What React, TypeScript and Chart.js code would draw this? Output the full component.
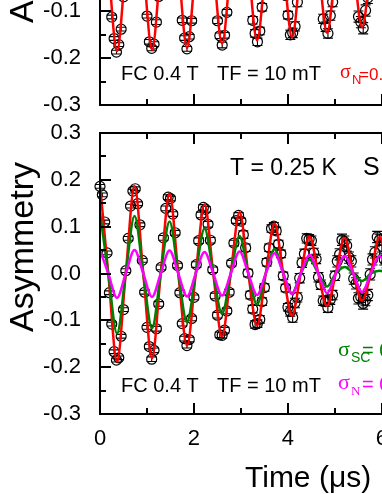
import React, { useEffect, useRef } from "react";
import { Chart, registerables } from "chart.js";
Chart.register(...registerables);

// ---------- data ----------
const TIME_US = [0.00,0.05,0.10,0.15,0.20,0.25,0.30,0.35,0.40,0.45,0.50,0.55,0.60,0.65,0.70,0.75,0.80,0.85,0.90,0.95,1.00,1.05,1.10,1.15,1.20,1.25,1.30,1.35,1.40,1.45,1.50,1.55,1.60,1.65,1.70,1.75,1.80,1.85,1.90,1.95,2.00,2.05,2.10,2.15,2.20,2.25,2.30,2.35,2.40,2.45,2.50,2.55,2.60,2.65,2.70,2.75,2.80,2.85,2.90,2.95,3.00,3.05,3.10,3.15,3.20,3.25,3.30,3.35,3.40,3.45,3.50,3.55,3.60,3.65,3.70,3.75,3.80,3.85,3.90,3.95,4.00,4.05,4.10,4.15,4.20,4.25,4.30,4.35,4.40,4.45,4.50,4.55,4.60,4.65,4.70,4.75,4.80,4.85,4.90,4.95,5.00,5.05,5.10,5.15,5.20,5.25,5.30,5.35,5.40,5.45,5.50,5.55,5.60,5.65,5.70,5.75,5.80,5.85,5.90,5.95,6.00,6.05,6.10,6.15,6.20,6.25,6.30,6.35,6.40];

// lower panel: T = 0.25 K
const ASYM_025K = [
  0.186,0.168,0.110,0.044,-0.041,-0.108,-0.167,-0.185,-0.180,-0.134,
  -0.077,0.006,0.075,0.144,0.176,0.181,0.149,0.104,0.028,-0.040,
  -0.115,-0.156,-0.183,-0.164,-0.118,-0.065,0.013,0.076,0.139,0.163,
  0.160,0.127,0.087,0.017,-0.041,-0.107,-0.139,-0.154,-0.141,-0.096,
  -0.051,0.019,0.070,0.125,0.141,0.137,0.105,0.071,0.008,-0.048,
  -0.089,-0.131,-0.132,-0.121,-0.080,-0.040,0.022,0.065,0.113,0.124,
  0.112,0.083,0.055,0.001,-0.046,-0.076,-0.109,-0.107,-0.098,-0.060,
  -0.030,0.024,0.055,0.096,0.101,0.091,0.063,0.042,-0.005,-0.031,
  -0.072,-0.081,-0.094,-0.063,-0.051,-0.010,0.023,0.042,0.075,0.073,
  0.070,0.044,0.031,-0.008,-0.024,-0.058,-0.060,-0.073,-0.056,-0.046,
  -0.005,0.026,0.041,0.072,0.068,0.060,0.034,0.026,-0.011,-0.021,
  -0.053,-0.050,-0.064,-0.057,-0.046,-0.002,0.030,0.045,0.078,0.072,
  0.058,0.030,0.024,-0.014,-0.022,-0.053,-0.048,-0.061,-0.037
];

// upper panel (normal state)
const ASYM_UPPER = [
  0.183,0.165,0.108,0.043,-0.035,-0.112,-0.158,-0.187,-0.171,-0.138,
  -0.069,0.000,0.080,0.135,0.178,0.177,0.158,0.099,0.035,-0.047,
  -0.110,-0.165,-0.179,-0.170,-0.123,-0.068,0.013,0.080,0.144,0.170,
  0.178,0.143,0.097,0.020,-0.046,-0.119,-0.157,-0.180,-0.154,-0.120,
  -0.051,0.014,0.090,0.136,0.172,0.162,0.140,0.079,0.019,-0.052,
  -0.120,-0.152,-0.172,-0.151,-0.102,-0.049,0.027,0.084,0.141,0.158,
  0.160,0.121,0.077,0.004,-0.055,-0.119,-0.147,-0.165,-0.142,-0.091,
  -0.041,0.025,0.094,0.130,0.159,0.141,0.119,0.058,0.006,-0.066,
  -0.108,-0.150,-0.146,-0.132,-0.080,-0.034,0.038,0.084,0.134,0.142,
  0.140,0.098,0.059,-0.010,-0.058,-0.116,-0.133,-0.147,-0.109,-0.080,
  -0.016,0.042,0.081,0.128,0.131,0.128,0.086,0.050,-0.016,-0.057,
  -0.111,-0.123,-0.136,-0.098,-0.071,-0.008,0.045,0.079,0.122,0.121,
  0.119,0.076,0.043,-0.021,-0.058,-0.108,-0.116,-0.127,-0.092
];

const ASYM_ERR = [
  0.004,0.004,0.004,0.004,0.004,0.004,0.004,0.004,0.004,0.004,
  0.004,0.004,0.004,0.004,0.004,0.004,0.004,0.004,0.004,0.004,
  0.004,0.005,0.005,0.005,0.005,0.005,0.005,0.005,0.005,0.005,
  0.005,0.005,0.005,0.005,0.005,0.005,0.005,0.005,0.005,0.005,
  0.005,0.006,0.006,0.006,0.006,0.006,0.006,0.006,0.006,0.006,
  0.006,0.006,0.006,0.006,0.006,0.006,0.006,0.006,0.006,0.006,
  0.006,0.008,0.008,0.008,0.008,0.008,0.008,0.008,0.008,0.008,
  0.008,0.008,0.008,0.008,0.008,0.008,0.008,0.008,0.008,0.008,
  0.008,0.010,0.010,0.010,0.010,0.010,0.010,0.010,0.010,0.010,
  0.010,0.010,0.010,0.010,0.010,0.010,0.010,0.010,0.010,0.010,
  0.010,0.012,0.012,0.012,0.012,0.012,0.012,0.012,0.012,0.012,
  0.012,0.012,0.012,0.012,0.012,0.012,0.012,0.012,0.012,0.012,
  0.012,0.012,0.012,0.012,0.012,0.012,0.012,0.012,0.012
];

// fit curves: extrema and zero crossings
const FIT_T = [0, 0.176, 0.362, 0.548, 0.735, 0.921, 1.107, 1.293, 1.48, 1.666, 1.852, 2.038, 2.225, 2.411, 2.597, 2.783, 2.97, 3.156, 3.342, 3.528, 3.715, 3.901, 4.087, 4.273, 4.46, 4.646, 4.832, 5.018, 5.205, 5.391, 5.577, 5.763, 5.95, 6.136, 6.322, 6.508];
const FIT_TOTAL_025K = [0.190, 0, -0.188, 0, 0.187, 0, -0.181, 0, 0.171, 0, -0.154, 0, 0.148, 0, -0.135, 0, 0.131, 0, -0.111, 0, 0.107, 0, -0.090, 0, 0.079, 0, -0.069, 0, 0.076, 0, -0.058, 0, 0.078, 0, -0.056, 0];
const FIT_SC_025K = [0.130, 0, -0.128, 0, 0.123, 0, -0.117, 0, 0.111, 0, -0.104, 0, 0.096, 0, -0.086, 0, 0.080, 0, -0.066, 0, 0.052, 0, -0.042, 0, 0.030, 0, -0.028, 0, 0.014, 0, -0.016, 0, 0.006, 0, -0.010, 0];
const FIT_N_025K = [0.050, 0, -0.052, 0, 0.050, 0, -0.050, 0, 0.049, 0, -0.049, 0, 0.046, 0, -0.047, 0, 0.047, 0, -0.046, 0, 0.043, 0, -0.044, 0, 0.040, 0, -0.042, 0, 0.038, 0, -0.040, 0, 0.038, 0, -0.038, 0];
const FIT_TOTAL_UPPER = [0.186, 0, -0.185, 0, 0.183, 0, -0.182, 0, 0.179, 0, -0.178, 0, 0.173, 0, -0.169, 0, 0.166, 0, -0.162, 0, 0.159, 0, -0.155, 0, 0.150, 0, -0.146, 0, 0.140, 0, -0.134, 0, 0.129, 0, -0.124, 0];

const X_MAJOR = [0, 2, 4, 6, 8];
const X_MINOR = [1, 3, 5, 7];
const Y_MAJOR = [-0.3, -0.2, -0.1, 0, 0.1, 0.2, 0.3];
const Y_MINOR = [-0.25, -0.15, -0.05, 0.05, 0.15, 0.25];

// ---------- styling ----------
const SANS = '"Liberation Sans", Arial, Helvetica, sans-serif';
const SERIF = '"Liberation Serif", "Times New Roman", serif';
const RED = "#ff0000";
const GREEN = "#008000";
const MAGENTA = "#ff00ff";
const CANVAS_W = 486;

Chart.defaults.font.family = SANS;

type TextItem = { t: string; x: number; y: number; f: string; c?: string; rot?: boolean };

const pts = (xs: number[], ys: number[]) => xs.map((x, i) => ({ x, y: ys[i] }));

function makePlugin(pageTop: number, vals: number[], texts: TextItem[]) {
  return {
    id: "muFrame",
    beforeDatasetsDraw(chart: any) {
      const { ctx, scales } = chart;
      const x = scales.x, y = scales.y;
      ctx.save();
      ctx.strokeStyle = "#000";
      ctx.lineWidth = 1.1;
      ctx.beginPath();
      for (let i = 0; i < vals.length; i++) {
        const px = x.getPixelForValue(TIME_US[i]);
        const e = ASYM_ERR[i];
        const y1 = y.getPixelForValue(vals[i] + e);
        const y2 = y.getPixelForValue(vals[i] - e);
        ctx.moveTo(px, y1); ctx.lineTo(px, y2);
        ctx.moveTo(px - 5, y1); ctx.lineTo(px + 5, y1);
        ctx.moveTo(px - 5, y2); ctx.lineTo(px + 5, y2);
      }
      ctx.stroke();
      ctx.restore();
    },
    afterDraw(chart: any) {
      const { ctx, chartArea, scales } = chart;
      const { left, top, right, bottom } = chartArea;
      const x = scales.x, y = scales.y;
      ctx.save();
      ctx.strokeStyle = "#000";
      ctx.lineWidth = 2;
      ctx.strokeRect(left, top, right - left, bottom - top);
      ctx.beginPath();
      const xt = (v: number, len: number) => {
        const p = Math.round(x.getPixelForValue(v));
        ctx.moveTo(p, bottom); ctx.lineTo(p, bottom - len);
        ctx.moveTo(p, top); ctx.lineTo(p, top + len);
      };
      const yt = (v: number, len: number) => {
        const p = Math.round(y.getPixelForValue(v));
        ctx.moveTo(left, p); ctx.lineTo(left + len, p);
        ctx.moveTo(right, p); ctx.lineTo(right - len, p);
      };
      X_MAJOR.forEach((v) => xt(v, 11));
      X_MINOR.forEach((v) => xt(v, 6));
      Y_MAJOR.forEach((v) => yt(v, 11));
      Y_MINOR.forEach((v) => yt(v, 6));
      ctx.stroke();
      ctx.textBaseline = "alphabetic";
      for (const it of texts) {
        ctx.font = it.f;
        ctx.fillStyle = it.c || "#000";
        if (it.rot) {
          ctx.save();
          ctx.translate(it.x, it.y - pageTop);
          ctx.rotate(-Math.PI / 2);
          ctx.textAlign = "center";
          ctx.fillText(it.t, 0, 0);
          ctx.restore();
        } else {
          ctx.textAlign = "left";
          ctx.fillText(it.t, it.x, it.y - pageTop);
        }
      }
      ctx.restore();
    },
  };
}

function makePanel(
  canvas: HTMLCanvasElement,
  pageTop: number,
  padTop: number,
  axisH: number,
  showXLabels: boolean,
  datasets: any[],
  vals: number[],
  texts: TextItem[]
) {
  return new Chart(canvas, {
    type: "line",
    data: { datasets },
    options: {
      responsive: false,
      animation: false,
      devicePixelRatio: 1,
      events: [],
      layout: { padding: { top: padTop, right: 10, left: 0, bottom: 0 } },
      plugins: { legend: { display: false }, tooltip: { enabled: false }, title: { display: false } },
      scales: {
        x: {
          type: "linear",
          min: 0,
          max: 8,
          grid: { display: false },
          border: { display: false },
          ticks: {
            display: showXLabels,
            stepSize: 2,
            padding: 4,
            color: "#000",
            autoSkip: false,
            maxRotation: 0,
            font: { size: 22, family: SANS },
            callback: (v: any) => String(v),
          },
          afterFit: (s: any) => { s.height = axisH; },
        },
        y: {
          type: "linear",
          min: -0.3,
          max: 0.3,
          grid: { display: false },
          border: { display: false },
          ticks: {
            stepSize: 0.1,
            padding: 11,
            color: "#000",
            font: { size: 22, family: SANS },
            callback: (v: any) => (Math.abs(v) < 1e-9 ? "0.0" : Number(v).toFixed(1)),
          },
          afterFit: (s: any) => { s.width = 100; },
        },
      },
    } as any,
    plugins: [makePlugin(pageTop, vals, texts) as any],
  });
}

const fitLine = (xs: number[], ys: number[], color: string, w: number) => ({
  data: pts(xs, ys),
  borderColor: color,
  borderWidth: w,
  pointRadius: 0,
  fill: false,
  cubicInterpolationMode: "monotone",
});

const dataPoints = (ys: number[]) => ({
  data: pts(TIME_US, ys),
  showLine: false,
  pointRadius: 5,
  pointBorderWidth: 1.2,
  pointBorderColor: "#000",
  pointBackgroundColor: "rgba(0,0,0,0)",
  clip: false,
});

export default function App() {
  const topRef = useRef<HTMLCanvasElement>(null);
  const botRef = useRef<HTMLCanvasElement>(null);

  useEffect(() => {
    const TOP_PAGE = -200;
    const BOT_PAGE = 100;
    const upper = makePanel(
      topRef.current!,
      TOP_PAGE,
      23,
      25,
      false,
      [fitLine(FIT_T, FIT_TOTAL_UPPER, RED, 2.5), dataPoints(ASYM_UPPER)],
      ASYM_UPPER,
      [
        { t: "Asymmetry", x: 33, y: -62, f: `34px ${SANS}`, rot: true },
        { t: "FC 0.4 T", x: 121, y: 80, f: `20px ${SANS}` },
        { t: "TF = 10 mT", x: 217, y: 80, f: `20px ${SANS}` },
        { t: "σ", x: 340, y: 78, f: `20px ${SERIF}`, c: RED },
        { t: "N", x: 352, y: 84, f: `13px ${SANS}`, c: RED },
        { t: "=0.1 μs⁻¹", x: 359, y: 80, f: `17px ${SANS}`, c: RED },
      ]
    );
    const lower = makePanel(
      botRef.current!,
      BOT_PAGE,
      33,
      80,
      true,
      [
        fitLine(FIT_T, FIT_N_025K, MAGENTA, 2.5),
        fitLine(FIT_T, FIT_SC_025K, GREEN, 2.5),
        fitLine(FIT_T, FIT_TOTAL_025K, RED, 2.5),
        dataPoints(ASYM_025K),
      ],
      ASYM_025K,
      [
        { t: "Asymmetry", x: 33, y: 247, f: `34px ${SANS}`, rot: true },
        { t: "Time (μs)", x: 245, y: 487, f: `30px ${SANS}` },
        { t: "T = 0.25 K", x: 230, y: 175, f: `23px ${SANS}` },
        { t: "S", x: 363, y: 175, f: `25px ${SANS}` },
        { t: "FC 0.4 T", x: 121, y: 392, f: `20px ${SANS}` },
        { t: "TF = 10 mT", x: 217, y: 392, f: `20px ${SANS}` },
        { t: "σ", x: 338, y: 356, f: `22px ${SERIF}`, c: GREEN },
        { t: "SC", x: 351, y: 362, f: `14px ${SANS}`, c: GREEN },
        { t: "= 0.42 μs⁻¹", x: 362, y: 357, f: `20px ${SANS}`, c: GREEN },
        { t: "σ", x: 338, y: 389, f: `22px ${SERIF}`, c: MAGENTA },
        { t: "N", x: 351, y: 395, f: `13px ${SERIF}`, c: MAGENTA },
        { t: "= 0.1 μs⁻¹", x: 362, y: 391, f: `20px ${SANS}`, c: MAGENTA },
      ]
    );
    return () => {
      upper.destroy();
      lower.destroy();
    };
  }, []);

  return (
    <div
      style={{
        position: "absolute",
        left: 0,
        top: 0,
        width: 382,
        height: 494,
        overflow: "hidden",
        background: "#fff",
      }}
    >
      <canvas
        ref={topRef}
        width={CANVAS_W}
        height={330}
        style={{ position: "absolute", left: 0, top: -200, width: CANVAS_W, height: 330 }}
      />
      <canvas
        ref={botRef}
        width={CANVAS_W}
        height={394}
        style={{ position: "absolute", left: 0, top: 100, width: CANVAS_W, height: 394 }}
      />
    </div>
  );
}
